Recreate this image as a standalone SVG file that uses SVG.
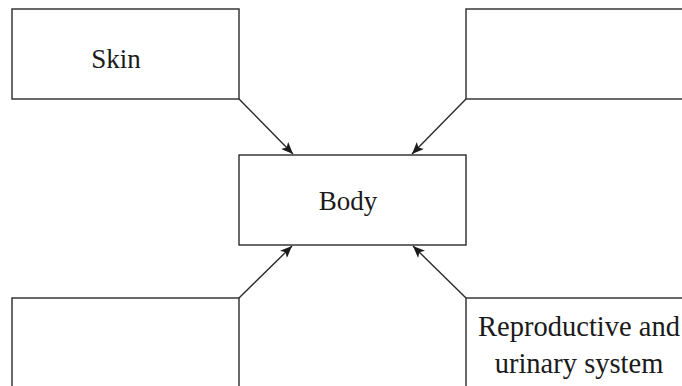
<svg xmlns="http://www.w3.org/2000/svg" width="682" height="386" viewBox="0 0 682 386">
<style>
.box{fill:#fff;stroke:#2a2a2a;stroke-width:1.4}
.lbl{font-family:"Liberation Serif","Times New Roman",serif;font-size:27px;fill:#1a1a1a;text-anchor:middle}
.big{font-size:28.5px}
.con{stroke:#2a2a2a;stroke-width:1.4;fill:none;marker-end:url(#ah)}
</style>
<defs>
<marker id="ah" viewBox="0 0 12 10" refX="12" refY="5" markerWidth="12" markerHeight="10" markerUnits="userSpaceOnUse" orient="auto">
<path d="M0,0 L12,5 L0,10 L3,5 Z" fill="#1a1a1a"/>
</marker>
</defs>
<rect width="682" height="386" fill="#fff"/>
<g id="skin"><rect class="box" x="12" y="9" width="227" height="90"/><text class="lbl" x="116" y="68">Skin</text></g>
<g id="top-right"><rect class="box" x="466" y="9" width="227" height="90"/></g>
<g id="body"><rect class="box" x="239" y="155" width="227" height="90"/><text class="lbl" x="348" y="210">Body</text></g>
<g id="bottom-left"><rect class="box" x="12" y="298" width="227" height="100"/></g>
<g id="repro"><rect class="box" x="466" y="298" width="227" height="100"/><text class="lbl big" x="579" y="336">Reproductive and</text><text class="lbl big" x="579" y="373">urinary system</text></g>
<g id="connectors">
<line class="con" x1="239" y1="99" x2="293" y2="154"/>
<line class="con" x1="466" y1="99" x2="412" y2="154"/>
<line class="con" x1="239" y1="298" x2="292" y2="246"/>
<line class="con" x1="466" y1="298" x2="413" y2="246"/>
</g>
</svg>
